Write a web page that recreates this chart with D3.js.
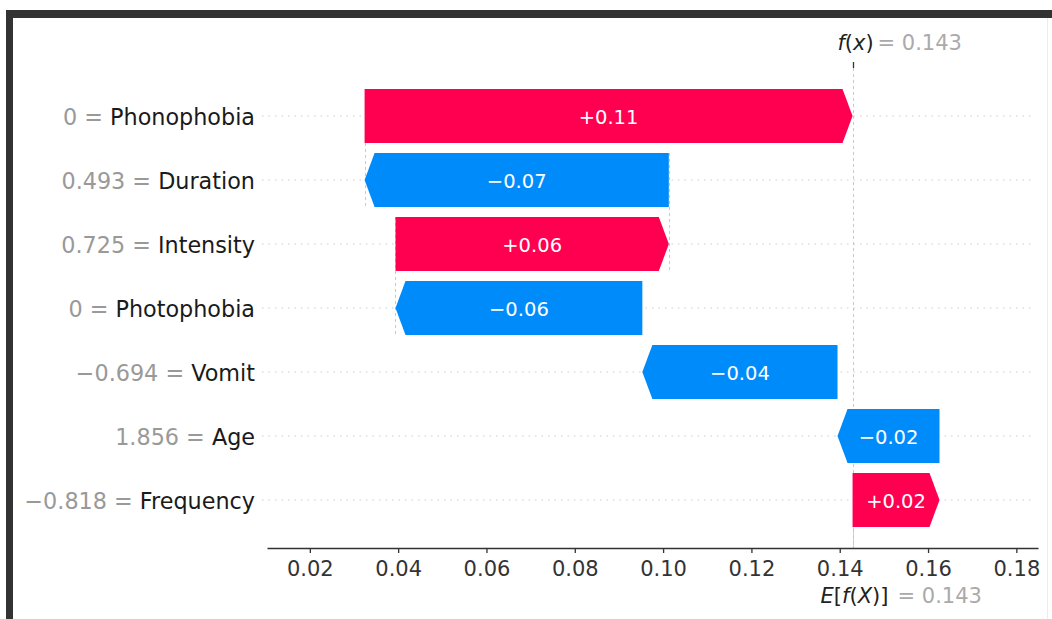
<!DOCTYPE html>
<html>
<head>
<meta charset="utf-8">
<script src="https://cdn.jsdelivr.net/npm/d3@7/dist/d3.min.js"></script>
<style>
  html, body { margin: 0; padding: 0; background: #fff; }
  svg { display: block; font-family: "DejaVu Sans", sans-serif; }
</style>
</head>
<body>
<svg id="chart" width="1052" height="619"></svg>
<script>
// Waterfall of feature contributions, top row first
const features = ["Phonophobia", "Duration", "Intensity", "Photophobia", "Vomit", "Age", "Frequency"];
const featureValues = ["0", "0.493", "0.725", "0", "\u22120.694", "1.856", "\u22120.818"];
const contributions = [0.1105, -0.0689, 0.0619, -0.0559, -0.0442, -0.0231, 0.0197];
const baseValue = 0.1429;
const xTicks = [0.02, 0.04, 0.06, 0.08, 0.10, 0.12, 0.14, 0.16, 0.18];

const POS = "#ff0051", NEG = "#008bfb";
const svg = d3.select("#chart");
const W = 1052, H = 619;

// frame around the figure
svg.append("rect").attr("x", 6).attr("y", 10).attr("width", W - 6).attr("height", 8).attr("fill", "#333");
svg.append("rect").attr("x", 6).attr("y", 10).attr("width", 7).attr("height", H - 10).attr("fill", "#333");
svg.append("line").attr("x1", 1047.5).attr("x2", 1047.5).attr("y1", 18).attr("y2", H)
  .attr("stroke", "#ececec").attr("stroke-width", 1);

const plot = { left: 267, right: 1038, top: 68, bottom: 548 };
const x = d3.scaleLinear().domain([0.0103, 0.1849]).range([plot.left, plot.right]);
const y = d3.scaleBand().domain(features).range([84, 532]).paddingInner(0.156).paddingOuter(0.078);
const rowY = f => y(f) + y.bandwidth() / 2;
const barH = 54;
const head = 10;

// cumulative positions: walk upward from the base value at the bottom row
const n = features.length;
const starts = new Array(n), ends = new Array(n);
let acc = baseValue;
for (let i = n - 1; i >= 0; i--) {
  starts[i] = acc;
  acc += contributions[i];
  ends[i] = acc;
}
const fx = acc;

// dotted row guides
svg.append("g").selectAll("line").data(features).join("line")
  .attr("x1", 262).attr("x2", plot.right - 6)
  .attr("y1", f => rowY(f)).attr("y2", f => rowY(f))
  .attr("stroke", "#cccccc").attr("stroke-width", 1)
  .attr("stroke-dasharray", "1.5,5");

// dashed connectors between the first few bars
const conn = svg.append("g");
for (let i = 0; i < 3; i++) {
  const cx = Math.round(x(starts[i])) + 0.5;
  conn.append("line")
    .attr("x1", cx).attr("x2", cx)
    .attr("y1", rowY(features[i]) - barH / 2)
    .attr("y2", rowY(features[i + 1]) + barH / 2)
    .attr("stroke", "#bbbbbb").attr("stroke-width", 0.8).attr("stroke-dasharray", "3,3");
}

// f(x) line over full height, E[f(X)] line from the axis up to the last row
const fxX = Math.round(x(fx)) + 0.5;
svg.append("line").attr("x1", fxX).attr("x2", fxX).attr("y1", plot.top).attr("y2", plot.bottom)
  .attr("stroke", "#bbbbbb").attr("stroke-width", 0.8).attr("stroke-dasharray", "3,3");
const bX = Math.round(x(baseValue)) + 0.5;
svg.append("line").attr("x1", bX).attr("x2", bX).attr("y1", plot.bottom - (plot.bottom - plot.top) / n).attr("y2", plot.bottom)
  .attr("stroke", "#bbbbbb").attr("stroke-width", 0.8).attr("stroke-dasharray", "3,3");

// arrow-shaped bars
function arrow(i) {
  const a = x(starts[i]), b = x(ends[i]);
  const cy = rowY(features[i]);
  const t = cy - barH / 2, btm = cy + barH / 2;
  const dir = b >= a ? 1 : -1;
  const hl = Math.min(head, Math.abs(b - a));
  return [[a, t], [b - dir * hl, t], [b, cy], [b - dir * hl, btm], [a, btm]];
}
const bars = svg.append("g");
features.forEach((f, i) => {
  bars.append("polygon")
    .attr("points", arrow(i).map(p => p.join(",")).join(" "))
    .attr("fill", contributions[i] >= 0 ? POS : NEG);
  const mid = (x(starts[i]) + x(ends[i])) / 2;
  const v = contributions[i];
  bars.append("text")
    .attr("x", mid).attr("y", rowY(f) + 1)
    .attr("text-anchor", "middle").attr("dominant-baseline", "central")
    .attr("fill", "#fff").attr("font-size", 19.5)
    .text((v >= 0 ? "+" : "\u2212") + d3.format(".2f")(Math.abs(v)));
});

// feature labels: value in grey, name in dark
const lab = svg.append("g");
features.forEach((f, i) => {
  const t = lab.append("text")
    .attr("x", 255).attr("y", rowY(f) + 1)
    .attr("text-anchor", "end").attr("dominant-baseline", "central")
    .attr("font-size", 22.3);
  t.append("tspan").attr("fill", "#999").text(featureValues[i] + " = ");
  t.append("tspan").attr("fill", "#1a1a1a").text(f);
});

// bottom axis
const axis = svg.append("g").attr("transform", `translate(0,${plot.bottom})`)
  .call(d3.axisBottom(x).tickValues(xTicks).tickFormat(d3.format(".2f"))
    .tickSize(5).tickSizeOuter(0).tickPadding(8));
axis.select(".domain").attr("stroke", "#333").attr("stroke-width", 1.3);
axis.selectAll(".tick line").attr("stroke", "#333").attr("stroke-width", 1.3);
axis.selectAll(".tick text").attr("fill", "#333").attr("font-size", 21)
  .attr("font-family", "DejaVu Sans, sans-serif");

// math-style label: letters italic, brackets upright
function mathLabel(sel, parts) {
  parts.forEach(([s, it]) => sel.append("tspan").attr("font-style", it ? "italic" : "normal").text(s));
}

// top marker for f(x)
svg.append("line").attr("x1", fxX).attr("x2", fxX).attr("y1", 62).attr("y2", 68)
  .attr("stroke", "#333").attr("stroke-width", 1.3);
const fxLab = svg.append("text").attr("x", fxX + 2).attr("y", 50).attr("text-anchor", "middle")
  .attr("font-size", 21).attr("fill", "#222");
mathLabel(fxLab, [["f", true], ["(", false], ["x", true], [")", false]]);
svg.append("text").attr("x", fxX + 24).attr("y", 50).attr("text-anchor", "start")
  .attr("font-size", 21).attr("fill", "#aaa").text("= " + d3.format(".3f")(fx));

// label for E[f(X)]
const efLab = svg.append("text").attr("x", bX + 1).attr("y", 603).attr("text-anchor", "middle")
  .attr("font-size", 21).attr("fill", "#222");
mathLabel(efLab, [["E", true], ["[", false], ["f", true], ["(", false], ["X", true], [")]", false]]);
svg.append("text").attr("x", bX + 44).attr("y", 603).attr("text-anchor", "start")
  .attr("font-size", 21).attr("fill", "#aaa").text("= " + d3.format(".3f")(baseValue));
</script>
</body>
</html>
